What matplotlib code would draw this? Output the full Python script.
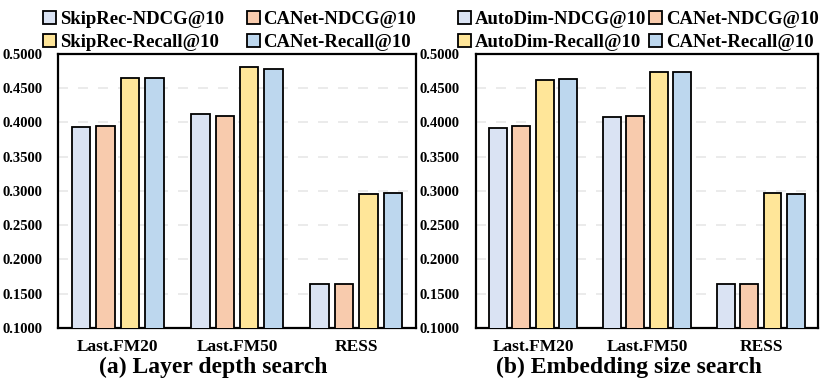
import numpy as np
import matplotlib
matplotlib.use('Agg')
import matplotlib.pyplot as plt

plt.rcParams['font.family'] = ['Liberation Serif', 'DejaVu Serif']
plt.rcParams['font.weight'] = 'bold'

datasets = ['Last.FM20', 'Last.FM50', 'RESS']
colors = ['#DAE3F3', '#F8CBAD', '#FFE699', '#BDD7EE']

# (a) layer depth search
labels_a = ['SkipRec-NDCG@10', 'CANet-NDCG@10', 'SkipRec-Recall@10', 'CANet-Recall@10']
skiprec_ndcg = [0.3940, 0.4120, 0.1638]
canet_ndcg_a = [0.3953, 0.4100, 0.1640]
skiprec_recall = [0.4654, 0.4810, 0.2960]
canet_recall_a = [0.4654, 0.4780, 0.2970]

# (b) embedding size search
labels_b = ['AutoDim-NDCG@10', 'CANet-NDCG@10', 'AutoDim-Recall@10', 'CANet-Recall@10']
autodim_ndcg = [0.3925, 0.4080, 0.1642]
canet_ndcg_b = [0.3944, 0.4095, 0.1640]
autodim_recall = [0.4616, 0.4740, 0.2970]
canet_recall_b = [0.4640, 0.4737, 0.2960]

yticks = [0.10, 0.15, 0.20, 0.25, 0.30, 0.35, 0.40, 0.45, 0.50]


def draw(ax, series, labels, colspace, lx, ypad):
    x = np.arange(len(datasets))
    offs = [-0.3075, -0.1025, 0.1025, 0.3075]
    bars = []
    for s, lab, c, o in zip(series, labels, colors, offs):
        b = ax.bar(x + o, s, width=0.155, color=c, edgecolor='black',
                   linewidth=1.3, label=lab, zorder=3)
        bars.append(b)
    ax.set_xlim(-0.5, 2.5)
    ax.set_ylim(0.1, 0.5)
    ax.set_yticks(yticks)
    ax.set_yticklabels(['%.4f' % v for v in yticks], fontsize=10.5)
    ax.set_xticks(x)
    ax.set_xticklabels(datasets, fontsize=12.5)
    ax.tick_params(axis='x', length=0, pad=8)
    ax.tick_params(axis='y', length=0, pad=ypad)
    for v in yticks[1:-1]:
        ax.axhline(v, color='#e8e8e8', linewidth=1.2, dashes=(6, 6), zorder=1)
    for sp in ax.spines.values():
        sp.set_linewidth(1.6)
    # row-wise order: NDCG pair on top, Recall pair below
    order = [0, 2, 1, 3]
    ax.legend([bars[i] for i in order], [labels[i] for i in order],
              ncol=2, loc='lower center', bbox_to_anchor=(lx, 0.97),
              frameon=False, fontsize=13.5, handlelength=0.7,
              handleheight=0.7, handletextpad=0.2, columnspacing=colspace,
              labelspacing=0.3, borderpad=0.1)


fig = plt.figure(figsize=(8.3, 3.86), dpi=100)
ax1 = fig.add_axes([0.0699, 0.1503, 0.4313, 0.7098])
ax2 = fig.add_axes([0.5735, 0.1503, 0.412, 0.7098])

draw(ax1, [skiprec_ndcg, canet_ndcg_a, skiprec_recall, canet_recall_a],
     labels_a, 1.2, 0.48, 11)
draw(ax2, [autodim_ndcg, canet_ndcg_b, autodim_recall, canet_recall_b],
     labels_b, 0.15, 0.475, 12)

# sub-captions, centred on each panel incl. its tick labels
fig.text(0.257, 0.048, '(a) Layer depth search', fontsize=17,
         fontweight='bold', ha='center', va='center')
fig.text(0.758, 0.048, '(b) Embedding size search', fontsize=17,
         fontweight='bold', ha='center', va='center')

fig.savefig('out.png', dpi=100)
plt.close('all')
